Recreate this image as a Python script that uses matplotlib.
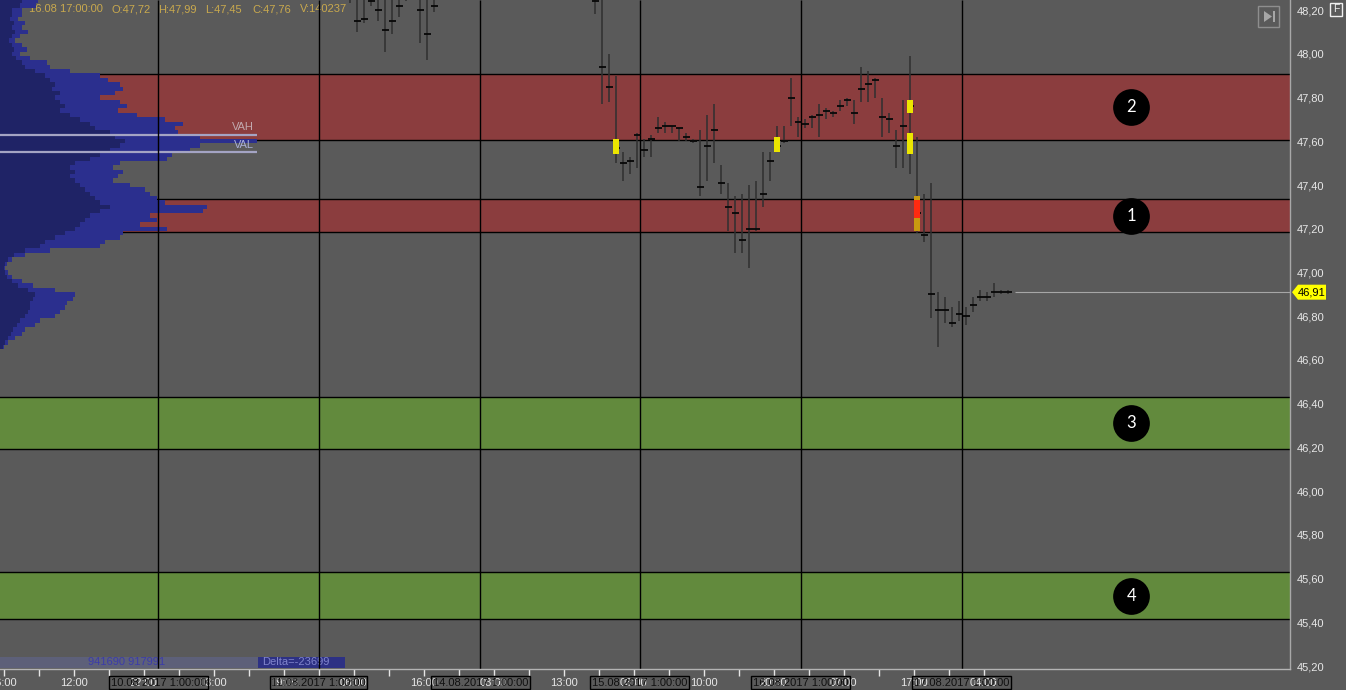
import numpy as np
import matplotlib
matplotlib.use("Agg")
import matplotlib.pyplot as plt
from matplotlib.transforms import blended_transform_factory
from matplotlib.patches import Rectangle, Polygon

plt.rcParams['font.family'] = ['Liberation Sans', 'DejaVu Sans']

# ---------------- data ----------------
price_ticks = [45.20, 45.40, 45.60, 45.80, 46.00, 46.20, 46.40, 46.60,
               46.80, 47.00, 47.20, 47.40, 47.60, 47.80, 48.00, 48.20]

zone_low = [47.606, 47.185, 46.193, 45.415]
zone_high = [47.907, 47.336, 46.430, 45.630]
zone_kind = ["resist", "resist", "support", "support"]
zone_labels = ["2", "1", "3", "4"]

bar_slot = [50, 51, 52, 53, 54, 55, 56, 57, 58, 60, 61, 62,
            85, 86, 87, 88, 89, 90, 91, 92, 93, 94, 95, 96, 97, 98, 99,
            100, 101, 102, 103, 104, 105, 106, 107, 108, 109, 110, 111,
            112, 113, 114, 115, 116, 117, 118, 119, 120, 121, 122, 123,
            124, 125, 126, 127, 128, 129, 130, 131, 132, 133, 134, 135,
            136, 137, 138, 139, 140, 141, 142, 143, 144]
bar_high = [48.30, 48.30, 48.30, 48.30, 48.30, 48.30, 48.30, 48.30, 48.30, 48.30, 48.30, 48.30,
            48.30, 48.30, 48.00, 47.90, 47.55, 47.53, 47.64, 47.61, 47.63, 47.71, 47.69, 47.67, 47.66, 47.64, 47.61,
            47.65, 47.72, 47.77, 47.49, 47.41, 47.35, 47.36, 47.40, 47.42, 47.55, 47.55, 47.67,
            47.67, 47.89, 47.71, 47.70, 47.72, 47.77, 47.75, 47.74, 47.79, 47.80, 47.79, 47.94,
            47.92, 47.89, 47.80, 47.73, 47.65, 47.79, 47.99, 47.62, 47.36, 47.41, 46.91, 46.89,
            46.84, 46.87, 46.84, 46.89, 46.92, 46.91, 46.95, 46.92, 46.92]
bar_low = [48.23, 48.10, 48.14, 48.22, 48.15, 48.01, 48.09, 48.17, 48.24, 48.05, 47.97, 48.19,
           48.18, 47.77, 47.78, 47.50, 47.42, 47.45, 47.48, 47.53, 47.53, 47.64, 47.64, 47.64, 47.60, 47.60, 47.59,
           47.35, 47.42, 47.50, 47.36, 47.19, 47.09, 47.09, 47.02, 47.19, 47.30, 47.42, 47.55,
           47.59, 47.67, 47.62, 47.66, 47.66, 47.62, 47.70, 47.71, 47.74, 47.76, 47.68, 47.78,
           47.78, 47.80, 47.62, 47.64, 47.48, 47.48, 47.45, 47.18, 47.14, 46.79, 46.66, 46.77,
           46.75, 46.78, 46.76, 46.82, 46.87, 46.87, 46.89, 46.90, 46.90]
bar_poc = [48.25, 48.15, 48.16, 48.24, 48.20, 48.11, 48.15, 48.22, 48.25, 48.20, 48.09, 48.22,
           48.24, 47.94, 47.85, 47.57, 47.50, 47.51, 47.63, 47.56, 47.61, 47.66, 47.67, 47.67, 47.66, 47.62, 47.60,
           47.39, 47.58, 47.65, 47.41, 47.30, 47.27, 47.15, 47.20, 47.20, 47.36, 47.51, 47.58,
           47.60, 47.80, 47.69, 47.68, 47.71, 47.72, 47.74, 47.73, 47.76, 47.79, 47.73, 47.84,
           47.86, 47.88, 47.71, 47.70, 47.58, 47.67, 47.76, 47.27, 47.17, 46.90, 46.83, 46.83,
           46.77, 46.81, 46.80, 46.85, 46.89, 46.89, 46.91, 46.91, 46.91]

hl_slot = [88, 111, 130, 130, 131, 131]
hl_low = [47.54, 47.55, 47.73, 47.54, 47.19, 47.25]
hl_high = [47.61, 47.62, 47.79, 47.64, 47.35, 47.33]
hl_kind = ["yellow", "yellow", "yellow", "yellow", "orange", "red"]

prof_price = np.round(np.arange(48.24, 46.65, -0.02), 2)
prof_total = [38, 36, 22, 22, 18, 25, 22, 28, 20, 15,
              22, 27, 20, 30, 47, 50, 70, 100, 108, 120,
              123, 115, 100, 120, 127, 118, 137, 165, 183, 175,
              178, 200, 257, 200, 190, 172, 167, 120, 113, 123,
              118, 113, 130, 145, 150, 157, 165, 207, 203, 150,
              157, 140, 167, 123, 120, 105, 100, 50, 25, 12,
              7, 5, 8, 12, 22, 33, 55, 75, 73, 67,
              65, 60, 55, 40, 35, 25, 22, 15, 8, 4]
prof_inner = [22, 20, 12, 12, 10, 14, 12, 15, 12, 9,
              12, 14, 12, 16, 22, 25, 35, 45, 50, 55,
              52, 60, 55, 60, 65, 60, 70, 80, 90, 95,
              110, 115, 125, 120, 110, 100, 90, 75, 70, 75,
              70, 75, 80, 85, 90, 95, 100, 110, 100, 90,
              85, 80, 75, 65, 55, 45, 40, 25, 14, 8,
              5, 4, 5, 7, 12, 18, 28, 35, 33, 30,
              30, 28, 25, 20, 17, 13, 11, 8, 5, 3]
value_area_high = 47.63
value_area_low = 47.55

day_slot = [22.6, 45.5, 68.6, 91.4, 114.4, 137.4]
day_labels = ["10.08.2017 1:00:00", "11.08.2017 1:00:00", "14.08.2017 1:00:00",
              "15.08.2017 1:00:00", "16.08.2017 1:00:00", "17.08.2017 1:00:00"]
time_slot = [0.5, 10.5, 20.5, 30.5, 40.5, 50.5, 60.5, 70.5, 80.5, 90.5, 100.5, 110.5, 120.5, 130.5, 140.5]
time_labels = ["06:00", "12:00", "22:00", "03:00", "19:00", "06:00", "16:00", "03:00",
               "13:00", "03:00", "10:00", "20:00", "07:00", "17:00", "04:00"]
minor_slot = [5.5, 15.5, 25.5, 35.5, 45.5, 55.5, 65.5, 75.5, 85.5, 95.5, 105.5, 115.5, 125.5, 135.5]

info_date = "16.08 17:00:00"
info_open, info_high, info_low, info_close, info_volume = 47.72, 47.99, 47.45, 47.76, 140237
last_price = 46.91
buy_volume, sell_volume = 941690, 917991

# ---------------- layout ----------------
W, H = 1346, 690
PLOT_R = 1290          # px, right edge of plotting area
PLOT_B = 669           # px, bottom of plotting area
SLOT_PX = 7.0
Y_TOP, Y_BOT = 48.246, 45.187
BG = "#5a5a5a"
zone_color = {"resist": "#8b3d3e", "support": "#628a3d"}
hl_color = {"yellow": "#ece600", "orange": "#c89a10", "red": "#ff2a10"}

def fx(px):
    return px / W

def fy(py):
    return 1 - py / H

def comma(v):
    return f"{v:.2f}".replace(".", ",")

fig = plt.figure(figsize=(W / 100, H / 100), dpi=100, facecolor=BG)
rect = [0, fy(PLOT_B), fx(PLOT_R), PLOT_B / H]

ax_bg = fig.add_axes(rect)
ax_prof = fig.add_axes(rect)
ax = fig.add_axes(rect)
for a in (ax_bg, ax_prof, ax):
    a.set_ylim(Y_BOT, Y_TOP)
    a.patch.set_visible(False)
ax_bg.set_xlim(0, PLOT_R / SLOT_PX)
ax.set_xlim(0, PLOT_R / SLOT_PX)
ax_prof.set_xlim(0, PLOT_R)
ax_bg.set_axis_off()
ax_prof.set_axis_off()

# zones (bottom layer)
for lo, hi, k in zip(zone_low, zone_high, zone_kind):
    ax_bg.axhspan(lo, hi, color=zone_color[k], lw=0, zorder=1)
    ax_bg.axhline(lo, color="black", lw=1.0, zorder=2)
    ax_bg.axhline(hi, color="black", lw=1.0, zorder=2)

# info text (under the profile)
parts = [(29, info_date), (111, "O:" + comma(info_open)), (158, "H:" + comma(info_high)),
         (205, "L:" + comma(info_low)), (252, "C:" + comma(info_close)), (300, f"V:{info_volume}")]
tbg = blended_transform_factory(ax_bg.transData, ax_bg.transAxes)
for px, s in parts:
    ax_bg.text(px / SLOT_PX, 1 - 9 / PLOT_B, s, transform=tbg,
               color="#c9a94e", fontsize=8, va="center", ha="left")

# volume profile
ax_prof.barh(prof_price, prof_total, height=0.02, color="#2b2f8e", lw=0, zorder=1)
ax_prof.barh(prof_price, prof_inner, height=0.02, color="#1f2366", lw=0, zorder=2)
ax_prof.hlines([value_area_high, value_area_low], 0, 257, colors="#a4a4c4", lw=1.6, zorder=3)
ax_prof.text(254, value_area_high + 0.012, "VAH", color="#c2a9ae", fontsize=8, ha="right", va="bottom", zorder=4)
ax_prof.text(254, value_area_low + 0.012, "VAL", color="#a9b0d8", fontsize=8, ha="right", va="bottom", zorder=4)

# delta strip
tb = blended_transform_factory(ax_prof.transData, ax_prof.transAxes)
ax_prof.add_patch(Rectangle((0, 1.5 / PLOT_B), 258, 11 / PLOT_B, transform=tb, color="#5d6079", lw=0, zorder=5))
ax_prof.add_patch(Rectangle((258, 1.5 / PLOT_B), 87, 11 / PLOT_B, transform=tb, color="#2d3184", lw=0, zorder=5))
ax_prof.text(88, 7 / PLOT_B, f"{buy_volume} {sell_volume}", transform=tb, color="#3b3caa", fontsize=8,
             va="center", ha="left", zorder=6)
ax_prof.text(262, 7 / PLOT_B, f"Delta={sell_volume - buy_volume}", transform=tb, color="#8084cc", fontsize=8,
             va="center", ha="left", zorder=6)

# day separators
ax.vlines(day_slot, Y_BOT, Y_TOP, colors="black", lw=1.0, zorder=1)

# bars
bs = np.array(bar_slot, dtype=float)
ax.vlines(bs, bar_low, bar_high, colors="#303030", lw=1.3, alpha=0.85, zorder=3)
ax.hlines(bar_poc, bs - 0.5, bs + 0.5, colors="#080808", lw=1.3, zorder=4)
for s, lo, hi, k in zip(hl_slot, hl_low, hl_high, hl_kind):
    ax.bar(s, hi - lo, bottom=lo, width=0.8, color=hl_color[k], lw=0, zorder=5)

# last price line
ax.hlines(last_price, bar_slot[-1] + 1, PLOT_R / SLOT_PX, colors="#a6a6a6", lw=0.8, zorder=2)

# numbered circles
circle_x = 161.6
zc = [(lo + hi) / 2 for lo, hi in zip(zone_low, zone_high)]
ax.scatter([circle_x] * len(zc), zc, s=700, color="black", zorder=6, lw=0)
for y, lab in zip(zc, zone_labels):
    ax.text(circle_x, y, lab, color="white", fontsize=12, family=["Lato", "DejaVu Sans"],
            ha="center", va="center", zorder=7)

# axes styling
for sp in ("left", "top"):
    ax.spines[sp].set_visible(False)
ax.spines["right"].set_color("#a8a8a8")
ax.spines["right"].set_linewidth(1)
ax.spines["bottom"].set_color("#b4b4b4")
ax.spines["bottom"].set_linewidth(1)
ax.yaxis.tick_right()
ax.set_yticks(price_ticks)
ax.set_yticklabels([comma(p) for p in price_ticks])
ax.tick_params(axis="y", length=0, pad=5, labelsize=8, labelcolor="#e8e8e8")
ax.set_xticks(time_slot)
ax.set_xticklabels(time_labels)
ax.set_xticks(minor_slot, minor=True)
ax.tick_params(axis="x", which="both", direction="out", length=5, width=1, colors="#e6e6e6",
               labelsize=8, pad=1.5)

# date boxes
tdb = blended_transform_factory(ax.transData, ax.transAxes)
for x, lab in zip(day_slot, day_labels):
    ax.text(x, -13.5 / PLOT_B, lab, transform=tdb, color="#101010", fontsize=8, ha="center", va="center",
            clip_on=False, zorder=8,
            bbox=dict(boxstyle="square,pad=0.15", fc="none", ec="black", lw=1))

# price tag
tp = blended_transform_factory(fig.transFigure, ax.transData)
h = 7.5 / (PLOT_B / (Y_TOP - Y_BOT))
tag = Polygon([(fx(1292), last_price), (fx(1298), last_price + h), (fx(1326), last_price + h),
               (fx(1326), last_price - h), (fx(1298), last_price - h)], closed=True,
              transform=tp, fc="#ffff00", ec="none", clip_on=False, zorder=10)
fig.add_artist(tag)
fig.text(fx(1312), last_price, comma(last_price), transform=tp, fontsize=8,
         color="black", ha="center", va="center", zorder=11)

# "F" box and scroll button
fig.add_artist(Rectangle((fx(1330), fy(16)), fx(12), 13 / H, transform=fig.transFigure,
                         fc="none", ec="#f0f0f0", lw=1))
fig.text(fx(1336), fy(9.5), "F", fontsize=7.5, color="#f0f0f0", ha="center", va="center")
fig.add_artist(Rectangle((fx(1258), fy(27)), fx(21), 21 / H, transform=fig.transFigure,
                         fc="none", ec="#8e8e8e", lw=1))
fig.add_artist(Polygon([(fx(1264), fy(11)), (fx(1272), fy(16.5)), (fx(1264), fy(22))],
                       transform=fig.transFigure, fc="#a6a6a6", ec="none"))
fig.add_artist(Rectangle((fx(1272.5), fy(22)), fx(2), 11 / H, transform=fig.transFigure,
                         fc="#a6a6a6", ec="none"))

fig.savefig("out.png", dpi=100, facecolor=BG)
